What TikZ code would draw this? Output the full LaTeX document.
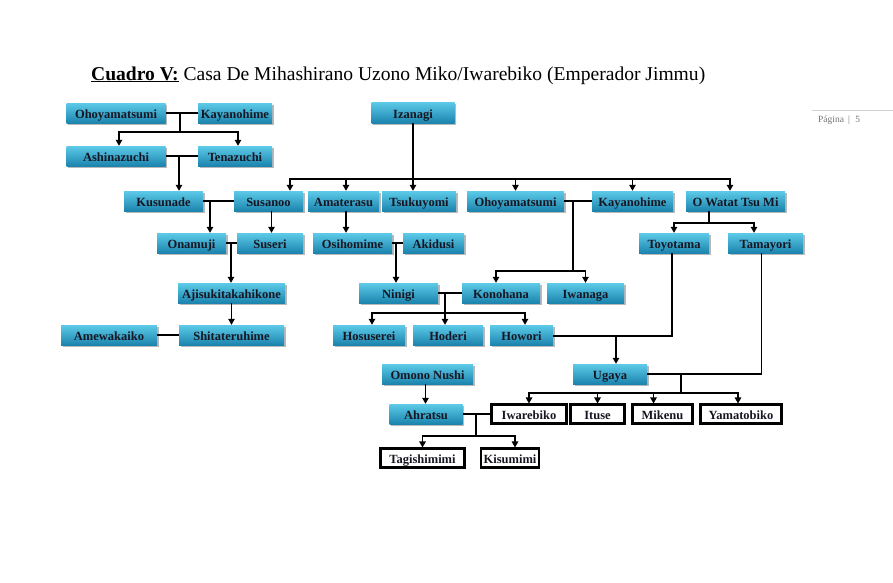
\documentclass[tikz,border=0pt]{standalone}
\usepackage{fontspec}
\setmainfont{Liberation Serif}
\usetikzlibrary{arrows.meta,shadows,calc}
\definecolor{boxtop}{RGB}{92,202,232}
\definecolor{boxbot}{RGB}{28,132,174}
\definecolor{boxtext}{RGB}{22,22,34}
\tikzset{
  fam/.style={draw=none, top color=boxtop, bottom color=boxbot, minimum height=20pt,
    inner sep=0pt, text height=11.5pt, text depth=0pt,
    font=\bfseries\fontsize{12.5}{13}\selectfont, text=boxtext,
    drop shadow={shadow xshift=1.8pt, shadow yshift=-2pt, fill=black!50, opacity=0.55}},
  leaf/.style={draw=black, line width=2.1pt, fill=white, minimum height=19pt,
    inner sep=0pt, text height=11.5pt, text depth=0pt,
    font=\bfseries\fontsize{12.5}{13}\selectfont, text=boxtext},
  link/.style={line width=1.2pt, draw=black},
  arr/.style={link, -{Triangle[width=6.5pt,length=6pt]}},
}
\begin{document}
\begin{tikzpicture}[x=1pt,y=-1pt]
\fill[white] (0,0) rectangle (893,582);
\useasboundingbox (0,0) rectangle (893,582);

% title and page label
\node[anchor=base west, inner sep=0pt] (title) at (91,80)
  {\resizebox{614pt}{!}{\fontsize{20}{22}\selectfont\underline{\textbf{Cuadro V:}} Casa De Mihashirano Uzono Miko/Iwarebiko (Emperador Jimmu)}};
\draw[black!18, line width=0.8pt] (812,110) -- (893,110);
\node[anchor=base west, inner sep=0pt, text=black!55, font=\fontsize{9.5}{10}\selectfont] (pg) at (818,122) {Página \,\textbar\,\, 5};

% nodes
\node[fam, minimum width=99pt] (oho1) at (116,113) {Ohoyamatsumi};
\node[fam, minimum width=74pt] (kay1) at (235,113) {Kayanohime};
\node[fam, minimum width=99pt] (ash) at (116,156) {Ashinazuchi};
\node[fam, minimum width=74pt] (ten) at (235,156) {Tenazuchi};
\node[fam, minimum width=83pt, minimum height=21pt] (iza) at (413,112.5) {Izanagi};
\node[fam, minimum width=79pt] (kus) at (163.5,201) {Kusunade};
\node[fam, minimum width=69pt] (sus) at (268.5,201) {Susanoo};
\node[fam, minimum width=71pt] (ama) at (343.5,201) {Amaterasu};
\node[fam, minimum width=74pt] (tsu) at (419,201) {Tsukuyomi};
\node[fam, minimum width=97pt] (oho2) at (515.5,201) {Ohoyamatsumi};
\node[fam, minimum width=81pt] (kay2) at (632.5,201) {Kayanohime};
\node[fam, minimum width=99pt] (owa) at (735.5,201) {O Watat Tsu Mi};
\node[fam, minimum width=69pt] (ona) at (191.5,243) {Onamuji};
\node[fam, minimum width=66pt] (suse) at (270,243) {Suseri};
\node[fam, minimum width=79pt] (osi) at (352.5,243) {Osihomime};
\node[fam, minimum width=61pt] (aki) at (433.5,243) {Akidusi};
\node[fam, minimum width=70pt] (toyo) at (674,243) {Toyotama};
\node[fam, minimum width=75pt] (tama) at (765.5,243) {Tamayori};
\node[fam, minimum width=107pt] (aji) at (231.5,293) {Ajisukitakahikone};
\node[fam, minimum width=79pt] (nin) at (398.5,293) {Ninigi};
\node[fam, minimum width=78pt] (kono) at (501,293) {Konohana};
\node[fam, minimum width=77pt] (iwan) at (585.5,293) {Iwanaga};
\node[fam, minimum width=96pt] (ame) at (109,335) {Amewakaiko};
\node[fam, minimum width=105pt] (shi) at (231.5,335) {Shitateruhime};
\node[fam, minimum width=72pt] (hos) at (369,335) {Hosuserei};
\node[fam, minimum width=70pt] (hod) at (448,335) {Hoderi};
\node[fam, minimum width=63pt] (how) at (521.5,335) {Howori};
\node[fam, minimum width=91pt] (omo) at (427.5,374) {Omono Nushi};
\node[fam, minimum width=74pt] (uga) at (610,374) {Ugaya};
\node[fam, minimum width=73pt] (ahr) at (426,414) {Ahratsu};
\node[leaf, minimum width=75pt] (iwa) at (529,414) {Iwarebiko};
\node[leaf, minimum width=54pt] (itu) at (597.5,414) {Ituse};
\node[leaf, minimum width=60pt] (mik) at (662.5,414) {Mikenu};
\node[leaf, minimum width=81pt] (yam) at (741,414) {Yamatobiko};
\node[leaf, minimum width=84pt] (tag) at (422.5,458) {Tagishimimi};
\node[leaf, minimum width=58pt] (kis) at (510,458) {Kisumimi};

% junction coordinates
\coordinate (j1) at (180,113);   \coordinate (j1b) at (180,132);
\coordinate (j2) at (179,156);
\coordinate (j3) at (413,179);
\coordinate (j4) at (210,201);
\coordinate (j7) at (231,243);
\coordinate (j8) at (396,243);
\coordinate (j9) at (573,201);   \coordinate (j9b) at (573,271);
\coordinate (j10) at (709,223);
\coordinate (j13) at (445,293);  \coordinate (j13b) at (445,313);
\coordinate (j14) at (616,336);
\coordinate (j16) at (681,374);  \coordinate (j16b) at (681,393);
\coordinate (j18) at (476,414);  \coordinate (j18b) at (476,436);

% connectors
\draw[link] (oho1.east) -- (kay1.west);
\draw[link] (j1) -- (j1b);
\draw[arr] (j1b) -| ([xshift=3pt]ash.north);
\draw[arr] (j1b) -| ([xshift=3pt]ten.north);

\draw[link] (ash.east) -- (ten.west);
\draw[arr] (j2) -- (j2 |- kus.north);

\draw[arr] (iza.south) -- (iza.south |- tsu.north);
\draw[arr] (j3) -| ([xshift=21.5pt]sus.north);
\draw[arr] (j3) -| ([xshift=2.5pt]ama.north);
\draw[arr] (j3) -| (oho2.north);
\draw[arr] (j3) -| (kay2.north);
\draw[arr] (j3) -| ([xshift=-5.5pt]owa.north);

\draw[link] (kus.east) -- (sus.west);
\draw[arr] (j4) -- (j4 |- ona.north);
\draw[arr] ([xshift=3pt]sus.south) -- ([xshift=3pt]sus.south |- suse.north);
\draw[arr] ([xshift=2.5pt]ama.south) -- ([xshift=2.5pt]ama.south |- osi.north);

\draw[link] (ona.east) -- (suse.west);
\draw[arr] (j7) -- (j7 |- aji.north);
\draw[link] (osi.east) -- (aki.west);
\draw[arr] (j8) -- (j8 |- nin.north);

\draw[link] (oho2.east) -- (kay2.west);
\draw[link] (j9) -- (j9b);
\draw[arr] (j9b) -| ([xshift=-5pt]kono.north);
\draw[arr] (j9b) -| (iwan.north);

\draw[link] (j10 |- owa.south) -- (j10);
\draw[arr] (j10) -| (toyo.north);
\draw[arr] (j10) -| ([xshift=-11.5pt]tama.north);

\draw[arr] (aji.south) -- (shi.north);
\draw[link] (ame.east) -- (shi.west);

\draw[link] (nin.east) -- (kono.west);
\draw[link] (j13) -- (j13b);
\draw[arr] (j13b) -| ([xshift=3pt]hos.north);
\draw[arr] (j13b) -- (j13b |- hod.north);
\draw[arr] (j13b) -| ([xshift=3.5pt]how.north);

\draw[link] (how.east |- j14) -| ([xshift=-2pt]toyo.south);
\draw[arr] (j14) -- (j14 |- uga.north);
\draw[link] (uga.east) -| ([xshift=-4pt]tama.south);
\draw[link] (j16) -- (j16b);
\draw[arr] (j16b) -| (iwa.north);
\draw[arr] (j16b) -| (itu.north);
\draw[arr] (j16b) -| ([xshift=-9pt]mik.north);
\draw[arr] (j16b) -| ([xshift=-3pt]yam.north);

\draw[arr] ([xshift=-2pt]omo.south) -- ([xshift=-2pt]omo.south |- ahr.north);
\draw[link] (ahr.east) -- (ahr.east -| iwa.west);
\draw[link] (j18) -- (j18b);
\draw[arr] (j18b) -| (tag.north);
\draw[arr] (j18b) -| ([xshift=5pt]kis.north);
\end{tikzpicture}
\end{document}
